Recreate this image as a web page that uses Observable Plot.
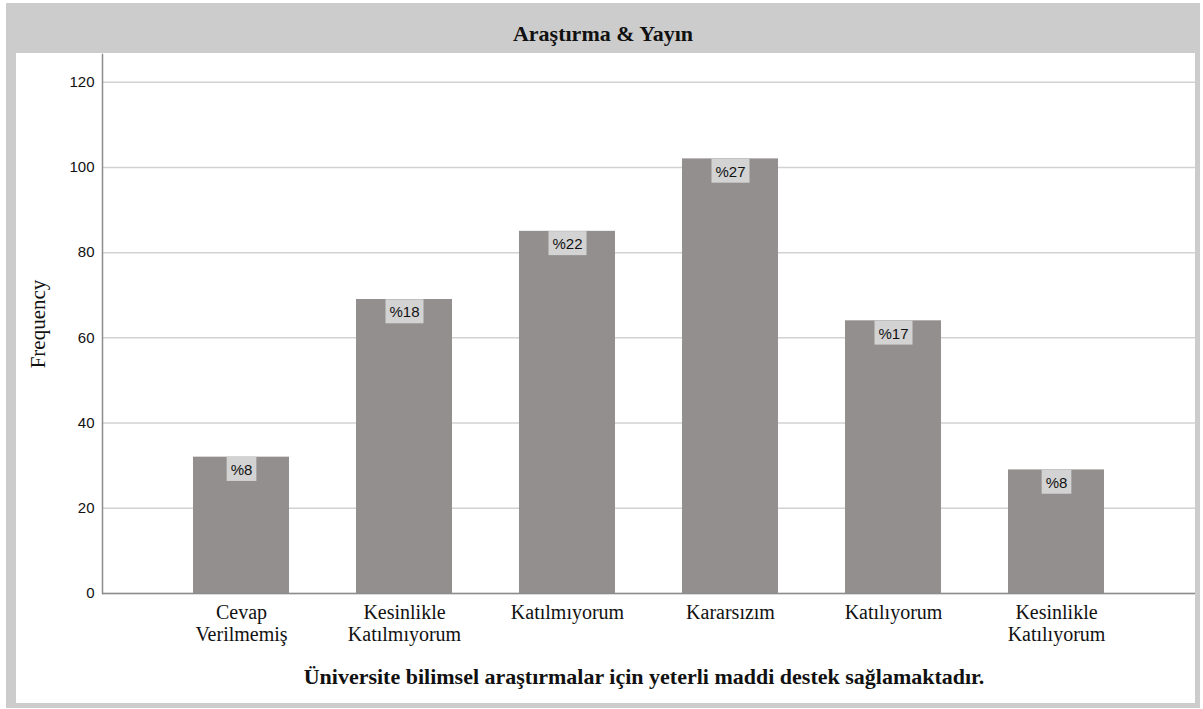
<!DOCTYPE html>
<html>
<head>
<meta charset="utf-8">
<script src="https://cdn.jsdelivr.net/npm/d3@7"></script>
<script src="https://cdn.jsdelivr.net/npm/@observablehq/plot@0.6"></script>
<style>
  html, body { margin: 0; padding: 0; background: #ffffff; }
  #frame { position: absolute; left: 6px; top: 3px; width: 1194px; height: 705px; background: #cccccc; }
  #title { position: absolute; left: 0; top: 0; width: 100%; height: 50px;
           font: bold 22px "Liberation Serif", "Times New Roman", serif; line-height: 62px;
           text-align: center; color: #111; }
  #chart { position: absolute; left: 10px; top: 50px; width: 1179px; height: 650px; background: #ffffff; }
</style>
</head>
<body>
<div id="frame">
  <div id="title">Araştırma &amp; Yayın</div>
  <div id="chart"></div>
</div>
<script>
const categories = ["Cevap Verilmemiş", "Kesinlikle Katılmıyorum", "Katılmıyorum", "Kararsızım", "Katılıyorum", "Kesinlikle Katılıyorum"];
const tickLabels = ["Cevap\nVerilmemiş", "Kesinlikle\nKatılmıyorum", "Katılmıyorum", "Kararsızım", "Katılıyorum", "Kesinlikle\nKatılıyorum"];
const counts = [32, 69, 85, 102, 64, 29];
const percents = [8, 18, 22, 27, 17, 8];
const yTicks = [0, 20, 40, 60, 80, 100, 120];
const yLabel = "Frequency";
const xLabel = "Üniversite bilimsel araştırmalar için yeterli maddi destek sağlamaktadır.";

const data = categories.map((c, i) => ({cat: c, count: counts[i], pct: "%" + percents[i], tick: tickLabels[i]}));
const tickMap = new Map(data.map(d => [d.cat, d.tick]));

const serif = "'Liberation Serif', 'Times New Roman', serif";
const sans = "'Liberation Sans', Arial, sans-serif";

const chart = Plot.plot({
  width: 1179,
  height: 650,
  marginLeft: 86,
  marginRight: 0,
  marginTop: 1,
  marginBottom: 110,
  style: {background: "transparent", color: "#111", fontFamily: serif},
  x: {domain: categories, paddingInner: 0.41, paddingOuter: 0.5375},
  y: {domain: [0, 126.5]},
  marks: [
    Plot.gridY(yTicks, {stroke: "#d2d2d2", strokeOpacity: 1, strokeWidth: 1.5}),
    Plot.barY(data, {x: "cat", y: "count", fill: "#938f8e"}),
    Plot.text(data, {x: "cat", y: "count", text: "pct", dy: 13, fontSize: 15, fill: "#111"}),
    Plot.ruleY([0], {stroke: "#8c8c8c", strokeWidth: 1.5}),
    Plot.frame({anchor: "left", stroke: "#8c8c8c", strokeWidth: 1.5}),
    Plot.axisY(yTicks, {tickSize: 0, tickPadding: 8, fontSize: 15, label: null}),
    Plot.axisX({tickSize: 0, tickPadding: 10, fontSize: 20, lineHeight: 1.1, tickFormat: d => tickMap.get(d), label: null}),
    Plot.text([yLabel], {frameAnchor: "left", textAnchor: "middle", rotate: -90, dx: -64, fontSize: 21}),
    Plot.text([xLabel], {frameAnchor: "bottom", dx: -5, dy: 90, fontSize: 22, fontWeight: "bold"})
  ]
});
document.getElementById("chart").appendChild(chart);

// fonts: percentage labels and y tick labels in sans, everything else in serif
const ns = "http://www.w3.org/2000/svg";
const pctSet = new Set(data.map(d => d.pct));
const ySet = new Set(yTicks.map(String));
chart.querySelectorAll("text").forEach(t => {
  const s = t.textContent.trim();
  const isSans = pctSet.has(s) || ySet.has(s);
  t.style.setProperty("font-family", isSans ? sans : serif, "important");
  t.querySelectorAll("tspan").forEach(ts => ts.style.setProperty("font-family", isSans ? sans : serif, "important"));
});
// label background boxes behind percentage texts
chart.querySelectorAll("text").forEach(t => {
  if (!pctSet.has(t.textContent.trim())) return;
  const b = t.getBBox();
  const r = document.createElementNS(ns, "rect");
  r.setAttribute("x", b.x - 4);
  r.setAttribute("y", b.y - 4);
  r.setAttribute("width", b.width + 8);
  r.setAttribute("height", b.height + 7);
  r.setAttribute("fill", "#d3d3d3");
  r.setAttribute("stroke", "none");
  const tr = t.getAttribute("transform");
  if (tr) r.setAttribute("transform", tr);
  t.parentNode.insertBefore(r, t);
});
</script>
</body>
</html>
